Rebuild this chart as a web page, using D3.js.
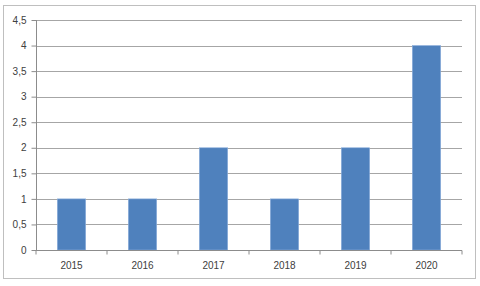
<!DOCTYPE html>
<html>
<head>
<meta charset="utf-8">
<script src="https://cdn.jsdelivr.net/npm/d3@7"></script>
<style>
  body { margin: 0; background: #fff; }
  svg { display: block; }
</style>
</head>
<body>
<svg id="chart" width="480" height="286"></svg>
<script>
var years = ['2015', '2016', '2017', '2018', '2019', '2020'];
var counts = [1, 1, 2, 1, 2, 4];
var yTicks = [0, 0.5, 1, 1.5, 2, 2.5, 3, 3.5, 4, 4.5];

(function () {
  var svg = d3.select('#chart'),
      plotLeft = 36, plotRight = 462, plotTop = 20, plotBottom = 250;

  // outer frame
  svg.append('rect')
    .attr('x', 3.5).attr('y', 5.5)
    .attr('width', 472).attr('height', 273)
    .attr('fill', '#fff')
    .attr('stroke', '#bfbfbf');

  var x = d3.scaleBand()
    .domain(years)
    .range([plotLeft, plotRight]);

  var y = d3.scaleLinear()
    .domain([0, 4.5])
    .range([plotBottom, plotTop]);

  var fmt = function (d) { return String(d).replace('.', ','); };

  // gridlines
  svg.append('g')
    .selectAll('line')
    .data(yTicks.filter(function (d) { return d > 0; }))
    .enter()
    .append('line')
    .attr('x1', plotLeft).attr('x2', plotRight)
    .attr('y1', function (d) { return Math.round(y(d)) + 0.5; })
    .attr('y2', function (d) { return Math.round(y(d)) + 0.5; })
    .attr('stroke', '#a6a6a6');

  // bars
  var barW = x.bandwidth() * 0.4;
  svg.append('g')
    .selectAll('rect')
    .data(counts)
    .enter()
    .append('rect')
    .attr('x', function (d, i) { return x(years[i]) + x.bandwidth() / 2 - barW / 2; })
    .attr('y', function (d) { return y(d); })
    .attr('width', barW)
    .attr('height', function (d) { return plotBottom - y(d); })
    .attr('fill', '#4f81bd')
    .attr('stroke', '#8eb0dc')
    .attr('stroke-width', 0.6);

  // y axis
  var yAxis = svg.append('g')
    .attr('transform', 'translate(' + (plotLeft + 0.5) + ',0)')
    .call(d3.axisLeft(y).tickValues(yTicks).tickFormat(fmt).tickSize(5).tickPadding(5));

  // x axis
  var xAxis = svg.append('g')
    .attr('transform', 'translate(0,' + (plotBottom + 0.5) + ')')
    .call(d3.axisBottom(x).tickSize(0).tickPadding(11));

  xAxis.selectAll('.tick')
    .append('line')
    .attr('x1', -x.bandwidth() / 2).attr('x2', -x.bandwidth() / 2)
    .attr('y1', 0).attr('y2', 4);
  xAxis.append('line')
    .attr('x1', plotRight).attr('x2', plotRight)
    .attr('y1', 0).attr('y2', 4);

  [yAxis, xAxis].forEach(function (a) {
    a.select('.domain').attr('stroke', '#8c8c8c');
    a.selectAll('line').attr('stroke', '#8c8c8c');
    a.selectAll('text')
      .attr('fill', '#404040')
      .style('font-family', 'Liberation Sans, Arial, sans-serif')
      .style('font-size', '10px');
  });
  yAxis.select('.domain').attr('d', 'M0,' + plotTop + 'V' + plotBottom);
  xAxis.select('.domain').attr('d', 'M' + plotLeft + ',0H' + plotRight);
})();
</script>
</body>
</html>
